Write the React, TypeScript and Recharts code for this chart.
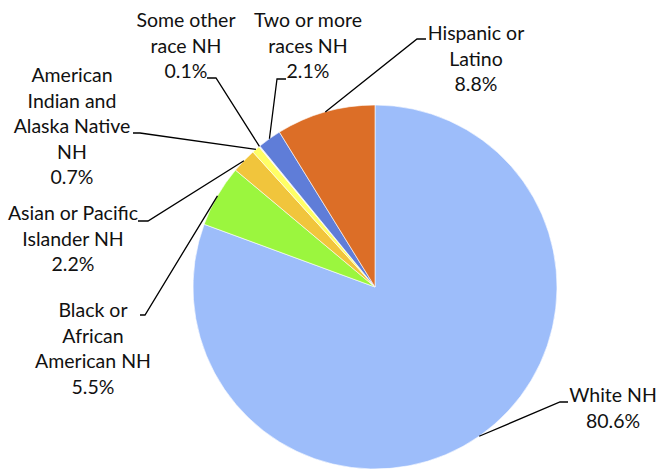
import React from "react";
import { PieChart, Pie, Cell } from "recharts";

const GROUPS = [
  "White NH",
  "Black or African American NH",
  "Asian or Pacific Islander NH",
  "American Indian and Alaska Native NH",
  "Some other race NH",
  "Two or more races NH",
  "Hispanic or Latino",
];
const SHARES = [80.6, 5.5, 2.2, 0.7, 0.1, 2.1, 8.8];
const COLORS = ["#9DBDFA", "#9BF63E", "#F1C53C", "#FFFF66", "#F2F2F2", "#5F7DD8", "#DC6E27"];

// label text lines as Excel wrapped them
const LABEL_LINES = [
  ["White NH"],
  ["Black or", "African", "American NH"],
  ["Asian or Pacific", "Islander NH"],
  ["American", "Indian and", "Alaska Native", "NH"],
  ["Some other", "race NH"],
  ["Two or more", "races NH"],
  ["Hispanic or", "Latino"],
];

// text centre x, first baseline y, leader elbow (ex, ey) and end x
const LABEL_POS = [
  { x: 613, y: 402, ex: 560, ey: 402, hx: 568 },
  { x: 93, y: 317, ex: 145, ey: 315, hx: 140 },
  { x: 73, y: 220, ex: 148, ey: 221, hx: 138 },
  { x: 72, y: 82, ex: 140, ey: 133, hx: 133 },
  { x: 186, y: 27, ex: 216, ey: 78, hx: 207 },
  { x: 308, y: 27, ex: 277, ey: 79, hx: 286 },
  { x: 476, y: 40, ex: 417, ey: 39, hx: 426 },
];

const data = GROUPS.map((g, i) => ({ name: g, value: SHARES[i] }));
const RAD = Math.PI / 180;
const LINE_H = 25.5;

const renderLabel = (p: any) => {
  const { cx, cy, midAngle, outerRadius, index } = p;
  const sx = cx + outerRadius * Math.cos(-midAngle * RAD);
  const sy = cy + outerRadius * Math.sin(-midAngle * RAD);
  const pos = LABEL_POS[index];
  const lines = [...LABEL_LINES[index], SHARES[index].toFixed(1) + "%"];
  return (
    <g key={"lbl" + index}>
      <polyline
        points={`${sx},${sy} ${pos.ex},${pos.ey} ${pos.hx},${pos.ey}`}
        fill="none"
        stroke="#000"
        strokeWidth={1.3}
      />
      <text
        x={pos.x}
        y={pos.y}
        textAnchor="middle"
        fontFamily="Lato, sans-serif"
        fontSize={19.5}
        fill="#111"
      >
        {lines.map((l, i) => (
          <tspan key={i} x={pos.x} y={pos.y + i * LINE_H}>
            {l}
          </tspan>
        ))}
      </text>
    </g>
  );
};

export default function App() {
  return (
    <div style={{ position: "absolute", left: 0, top: 0, width: 657, height: 470, background: "#fff" }}>
      <PieChart width={657} height={470} margin={{ top: 0, right: 0, bottom: 0, left: 0 }}>
        <Pie
          data={data}
          dataKey="value"
          nameKey="name"
          cx={375}
          cy={287}
          outerRadius={182}
          startAngle={90}
          endAngle={-270}
          stroke="#fff"
          strokeWidth={0.6}
          labelLine={false}
          label={renderLabel}
          isAnimationActive={false}
        >
          {data.map((d, i) => (
            <Cell key={d.name} fill={COLORS[i]} />
          ))}
        </Pie>
      </PieChart>
    </div>
  );
}
